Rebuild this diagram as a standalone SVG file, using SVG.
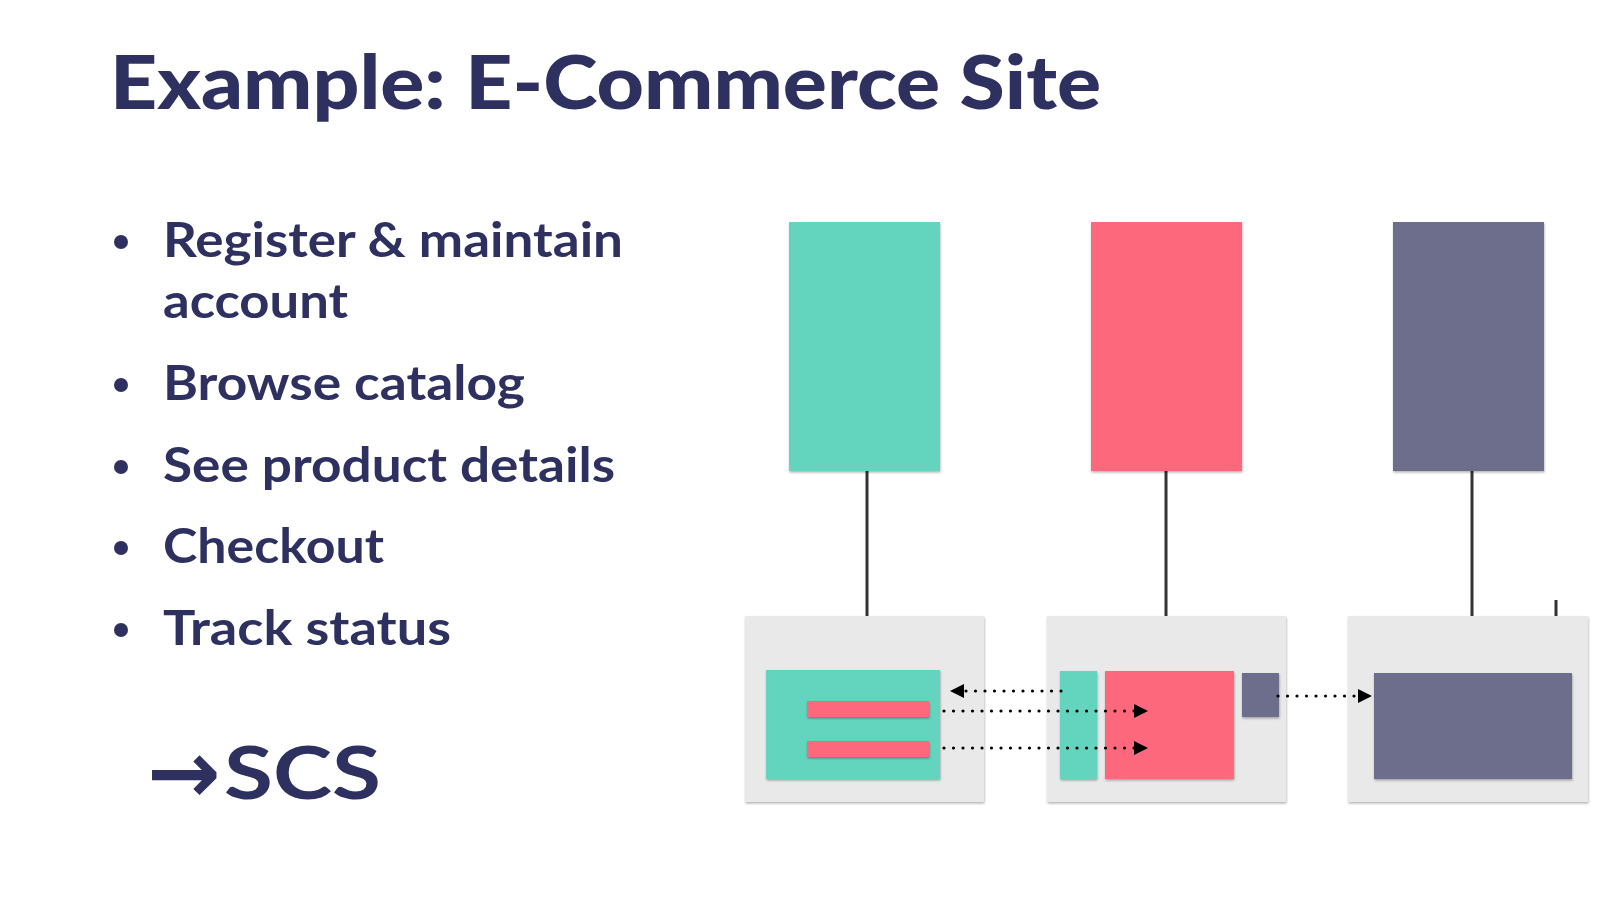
<svg xmlns="http://www.w3.org/2000/svg" width="1600" height="900" viewBox="0 0 1600 900">
  <style>
    .t { font-family: Lato, "Liberation Sans", sans-serif; fill: #2e3160; }
    .title { font-size: 74px; font-weight: 900; }
    .bul { font-size: 47px; font-weight: 700; }
    .dot { fill: #2e3160; }
    .teal { fill: #63d4bd; }
    .red { fill: #fe687b; }
    .purple { fill: #6d6e8c; }
    .box { fill: #e9e9e9; }
    .vline { stroke: #333333; stroke-width: 3; fill: none; }
    .dotted { stroke: #000000; stroke-width: 3.2; stroke-dasharray: 0 9.5; stroke-linecap: round; fill: none; }
  </style>
  <defs>
    <filter id="sh" x="-10%" y="-10%" width="120%" height="125%">
      <feDropShadow dx="0.5" dy="1.5" stdDeviation="1" flood-color="#000" flood-opacity="0.3"/>
    </filter>
    <marker id="ah" markerUnits="userSpaceOnUse" markerWidth="14" markerHeight="14" refX="14" refY="7" orient="auto">
      <path d="M0,0 L14,7 L0,14 z" fill="#000"/>
    </marker>
  </defs>
  <rect width="1600" height="900" fill="#ffffff"/>

  <text class="t title" x="110" y="109" textLength="991" lengthAdjust="spacingAndGlyphs">Example: E-Commerce Site</text>

  <g id="bullets">
    <circle class="dot" cx="121" cy="242" r="7"/>
    <text class="t bul" x="163" y="257" textLength="460" lengthAdjust="spacingAndGlyphs">Register &amp; maintain</text>
    <text class="t bul" x="163" y="318" textLength="185" lengthAdjust="spacingAndGlyphs">account</text>
    <circle class="dot" cx="121" cy="385" r="7"/>
    <text class="t bul" x="163" y="400" textLength="362" lengthAdjust="spacingAndGlyphs">Browse catalog</text>
    <circle class="dot" cx="121" cy="467" r="7"/>
    <text class="t bul" x="163" y="482" textLength="452" lengthAdjust="spacingAndGlyphs">See product details</text>
    <circle class="dot" cx="121" cy="548" r="7"/>
    <text class="t bul" x="163" y="563" textLength="221" lengthAdjust="spacingAndGlyphs">Checkout</text>
    <circle class="dot" cx="121" cy="630" r="7"/>
    <text class="t bul" x="163" y="645" textLength="288" lengthAdjust="spacingAndGlyphs">Track status</text>
  </g>

  <text class="t"><tspan x="147" y="803" font-family="'DejaVu Sans', sans-serif" font-weight="700" font-size="88">→</tspan><tspan x="224" y="799" font-size="73" font-weight="700" textLength="157" lengthAdjust="spacingAndGlyphs">SCS</tspan></text>

  <g id="connectors">
    <line class="vline" x1="867" y1="471" x2="867" y2="616"/>
    <line class="vline" x1="1166" y1="471" x2="1166" y2="616"/>
    <line class="vline" x1="1472" y1="471" x2="1472" y2="616"/>
    <line class="vline" x1="1556" y1="600" x2="1556" y2="616"/>
  </g>

  <g id="ui-account"><rect class="teal" x="789" y="222" width="151" height="249" filter="url(#sh)"/></g>
  <g id="ui-catalog"><rect class="red" x="1091" y="222" width="151" height="249" filter="url(#sh)"/></g>
  <g id="ui-order"><rect class="purple" x="1393" y="222" width="151" height="249" filter="url(#sh)"/></g>

  <g id="scs-1">
    <rect class="box" x="745" y="616" width="239" height="186" filter="url(#sh)"/>
    <rect class="teal" x="766" y="670" width="174" height="109" filter="url(#sh)"/>
    <rect class="red" x="807" y="701" width="122" height="16" filter="url(#sh)"/>
    <rect class="red" x="807" y="741" width="122" height="16" filter="url(#sh)"/>
  </g>
  <g id="scs-2">
    <rect class="box" x="1047" y="616" width="239" height="186" filter="url(#sh)"/>
    <rect class="teal" x="1060" y="671" width="37" height="108" filter="url(#sh)"/>
    <rect class="red" x="1105" y="671" width="129" height="108" filter="url(#sh)"/>
    <rect class="purple" x="1242" y="673" width="37" height="44" filter="url(#sh)"/>
  </g>
  <g id="scs-3">
    <rect class="box" x="1348" y="616" width="240" height="186" filter="url(#sh)"/>
    <rect class="purple" x="1374" y="673" width="198" height="106" filter="url(#sh)"/>
  </g>

  <g id="links">
    <line class="dotted" x1="1061" y1="691" x2="950" y2="691" marker-end="url(#ah)"/>
    <line class="dotted" x1="944" y1="711" x2="1148" y2="711" marker-end="url(#ah)"/>
    <line class="dotted" x1="944" y1="748" x2="1148" y2="748" marker-end="url(#ah)"/>
    <line class="dotted" x1="1278" y1="696" x2="1372" y2="696" marker-end="url(#ah)"/>
  </g>
</svg>
